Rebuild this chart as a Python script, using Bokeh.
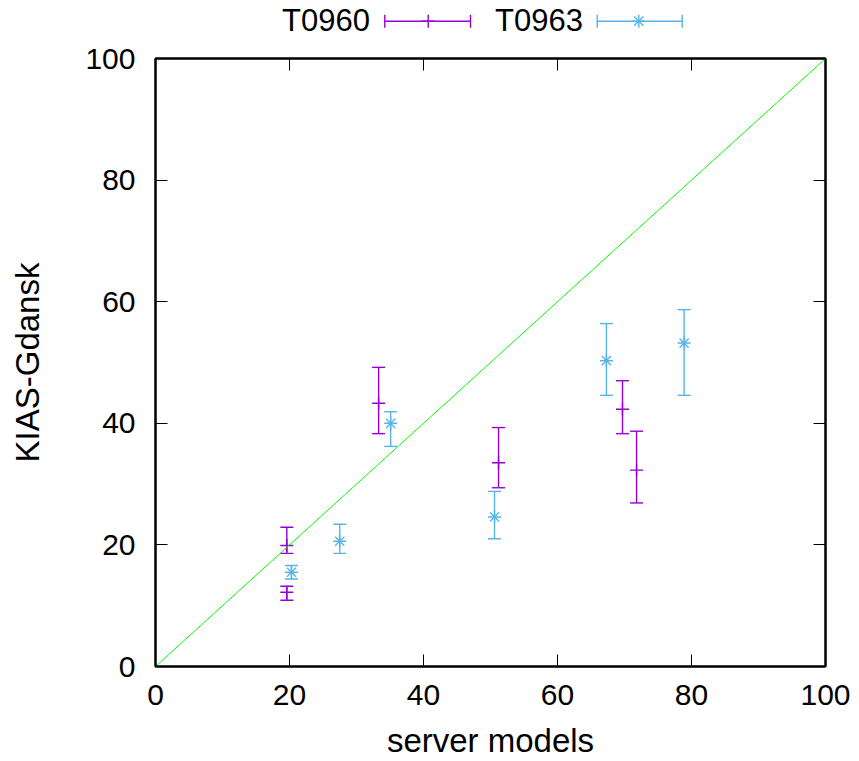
from bokeh.plotting import figure
from bokeh.layouts import column
from bokeh.models import (ColumnDataSource, Whisker, TeeHead, Label,
                          LinearAxis, FixedTicker, Range1d)
from bokeh.embed import file_html
from bokeh.resources import INLINE

# ---------------- data ----------------
x_ticks = [0, 20, 40, 60, 80, 100]
y_ticks = [0, 20, 40, 60, 80, 100]

series_names = ["T0960", "T0963"]

t0960_x = [19.6, 19.6, 33.3, 51.2, 69.7, 71.8]
t0960_y = [19.9, 12.2, 43.3, 33.5, 42.3, 32.3]
t0960_lo = [18.6, 10.9, 38.3, 29.4, 38.3, 26.9]
t0960_hi = [22.9, 13.2, 49.2, 39.3, 47.0, 38.7]

t0963_x = [20.3, 27.5, 35.1, 50.6, 67.3, 78.9]
t0963_y = [15.5, 20.6, 40.0, 24.6, 50.3, 53.2]
t0963_lo = [14.4, 18.6, 36.2, 21.0, 44.6, 44.6]
t0963_hi = [16.6, 23.4, 41.9, 28.8, 56.4, 58.7]

diag = [0, 100]

# ---------------- style ----------------
FONT = "Liberation Sans"
PURPLE = "#9400D3"
BLUE = "#56B4E9"
GREEN = "#00FF00"
LW = 1.4
CAP = 13
W = 859
H = 761
LEG_H = 41
FL, FR = 155, 34          # left / right borders (frame spans 155..825 px)

# ================= legend strip (top) =================
# the strip's frame is aligned with the main frame; its x scale is in pixels
leg = figure(width=W, height=LEG_H, output_backend="svg", toolbar_location=None,
             x_range=Range1d(FL, W - FR), y_range=Range1d(0, LEG_H),
             x_axis_type=None, y_axis_type=None,
             min_border_left=FL, min_border_right=FR,
             min_border_top=0, min_border_bottom=0)
leg.grid.visible = False
leg.outline_line_color = None
leg.background_fill_color = "white"
leg.border_fill_color = "white"

LEG_Y = LEG_H - 20.7      # centre line of the legend samples
TXT_Y = LEG_H - 20.0      # text anchor
legend_layout = [
    # name, text x, bar start, bar end, marker x, colour, star?
    (series_names[0], 281.5, 384.3, 470.0, 427.7, PURPLE, False),
    (series_names[1], 494.5, 596.7, 681.7, 638.3, BLUE, True),
]
for name, tx, x0, x1, xc, color, star in legend_layout:
    leg.add_layout(Label(x=tx, y=TXT_Y, text=name, text_align="left",
                         text_baseline="alphabetic", text_font=FONT,
                         text_font_size="31px", text_color="black"))
    lsrc = ColumnDataSource(dict(base=[LEG_Y], lower=[x0], upper=[x1]))
    leg.add_layout(Whisker(source=lsrc, base="base", lower="lower", upper="upper",
                           dimension="width", line_color=color, line_width=LW,
                           upper_head=TeeHead(size=CAP, line_color=color, line_width=LW),
                           lower_head=TeeHead(size=CAP, line_color=color, line_width=LW)))
    leg.scatter([xc], [LEG_Y], marker="cross", size=CAP, line_color=color, line_width=LW)
    if star:
        leg.scatter([xc], [LEG_Y], marker="x", size=CAP, line_color=color, line_width=LW)

# ================= main plot =================
p = figure(width=W, height=H - LEG_H, output_backend="svg", toolbar_location=None,
           x_range=Range1d(0, 100), y_range=Range1d(0, 100),
           min_border_left=FL, min_border_right=FR,
           min_border_top=58 - LEG_H, min_border_bottom=95)
p.grid.visible = False
p.outline_line_color = "black"
p.outline_line_width = 2
p.background_fill_color = "white"
p.border_fill_color = "white"


def style_axis(ax, ticks, show_labels=True, standoff=5):
    ax.ticker = FixedTicker(ticks=ticks)
    ax.major_tick_in = 12
    ax.major_tick_out = 0
    ax.minor_tick_in = 0
    ax.minor_tick_out = 0
    ax.major_tick_line_color = "black"
    ax.major_tick_line_width = 1
    ax.axis_line_color = "black"
    ax.axis_line_width = 2
    ax.major_label_text_font = FONT
    ax.major_label_text_font_size = "30px" if show_labels else "0px"
    ax.major_label_text_color = "black" if show_labels else None
    ax.major_label_standoff = standoff


style_axis(p.xaxis[0], x_ticks, True, 18)
style_axis(p.yaxis[0], y_ticks, True, 20)

p.xaxis.axis_label = "server models"
p.xaxis.axis_label_text_font = FONT
p.xaxis.axis_label_text_font_size = "33px"
p.xaxis.axis_label_text_font_style = "normal"
p.xaxis.axis_label_text_color = "black"
p.xaxis.axis_label_standoff = 14

p.yaxis.axis_label = "KIAS-Gdansk"
p.yaxis.axis_label_text_font = FONT
p.yaxis.axis_label_text_font_size = "33px"
p.yaxis.axis_label_text_font_style = "normal"
p.yaxis.axis_label_text_color = "black"
p.yaxis.axis_label_standoff = 36

top_ax = LinearAxis()
style_axis(top_ax, x_ticks, False, 0)
p.add_layout(top_ax, "above")
right_ax = LinearAxis()
style_axis(right_ax, y_ticks, False, 0)
p.add_layout(right_ax, "right")


def errorbars(xs, lo, hi, color):
    src = ColumnDataSource(dict(x=xs, lo=lo, hi=hi))
    w = Whisker(source=src, base="x", lower="lo", upper="hi", dimension="height",
                line_color=color, line_width=LW, level="underlay",
                upper_head=TeeHead(size=CAP, line_color=color, line_width=LW),
                lower_head=TeeHead(size=CAP, line_color=color, line_width=LW))
    p.add_layout(w)


errorbars(t0960_x, t0960_lo, t0960_hi, PURPLE)
p.scatter(t0960_x, t0960_y, marker="cross", size=CAP, line_color=PURPLE, line_width=LW)

errorbars(t0963_x, t0963_lo, t0963_hi, BLUE)
p.scatter(t0963_x, t0963_y, marker="cross", size=CAP, line_color=BLUE, line_width=LW)
p.scatter(t0963_x, t0963_y, marker="x", size=CAP, line_color=BLUE, line_width=LW)

p.line(diag, diag, line_color=GREEN, line_width=1)

layout = column(leg, p, spacing=0)
open("out.html", "w").write(file_html(layout, INLINE))
